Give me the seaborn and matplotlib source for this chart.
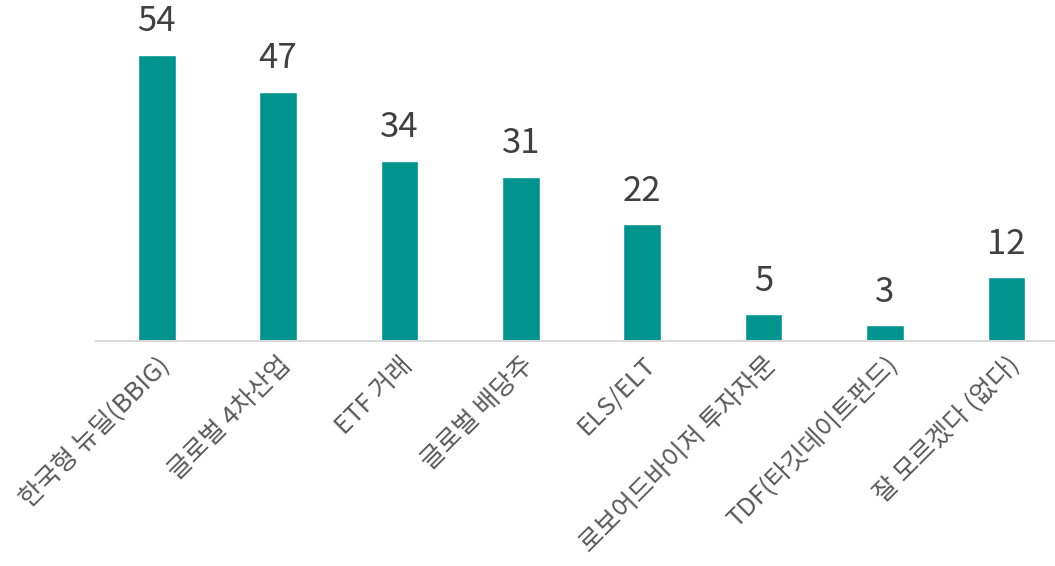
import matplotlib
matplotlib.use("Agg")
import matplotlib.pyplot as plt
import seaborn as sns
import pandas as pd

categories = ["한국형 뉴딜(BBIG)", "글로벌 4차산업", "ETF 거래", "글로벌 배당주", "ELS/ELT",
              "로보어드바이저 투자자문", "TDF(타깃데이트펀드)", "잘 모르겠다 (없다)"]
values = [54, 47, 34, 31, 22, 5, 3, 12]

sns.set_theme(style="white")
plt.rcParams['font.family'] = ['Noto Sans CJK KR', 'DejaVu Sans']

df = pd.DataFrame({"cat": categories, "val": values})

fig = plt.figure(figsize=(10.55, 5.66), dpi=100)
ax = fig.add_axes([96/1055, 1 - 341/566, (1055 - 96)/1055, 341/566])
sns.barplot(data=df, x="cat", y="val", color="#00948F", width=0.31, saturation=1, ax=ax)
ax.set_xlim(-0.5, 7.4)
ax.set_ylim(0, 64.3)
for i, v in enumerate(values):
    ax.text(i, v + 2.9, str(v), ha="center", va="bottom", fontsize=25,
            fontweight="light", color="#404040")
ax.set_xlabel("")
ax.set_ylabel("")
ax.set_yticks([])
for s in ["top", "right", "left"]:
    ax.spines[s].set_visible(False)
ax.spines["bottom"].set_color("#d9d9d9")
ax.spines["bottom"].set_linewidth(1.5)
ax.tick_params(axis="x", length=0, pad=8)
ax.set_xticks(range(len(categories)))
ax.set_xticklabels(categories, rotation=45, ha="right", rotation_mode="anchor",
                   fontsize=18.5, fontweight="light", color="#595959")
fig.savefig("out.png", dpi=100)
